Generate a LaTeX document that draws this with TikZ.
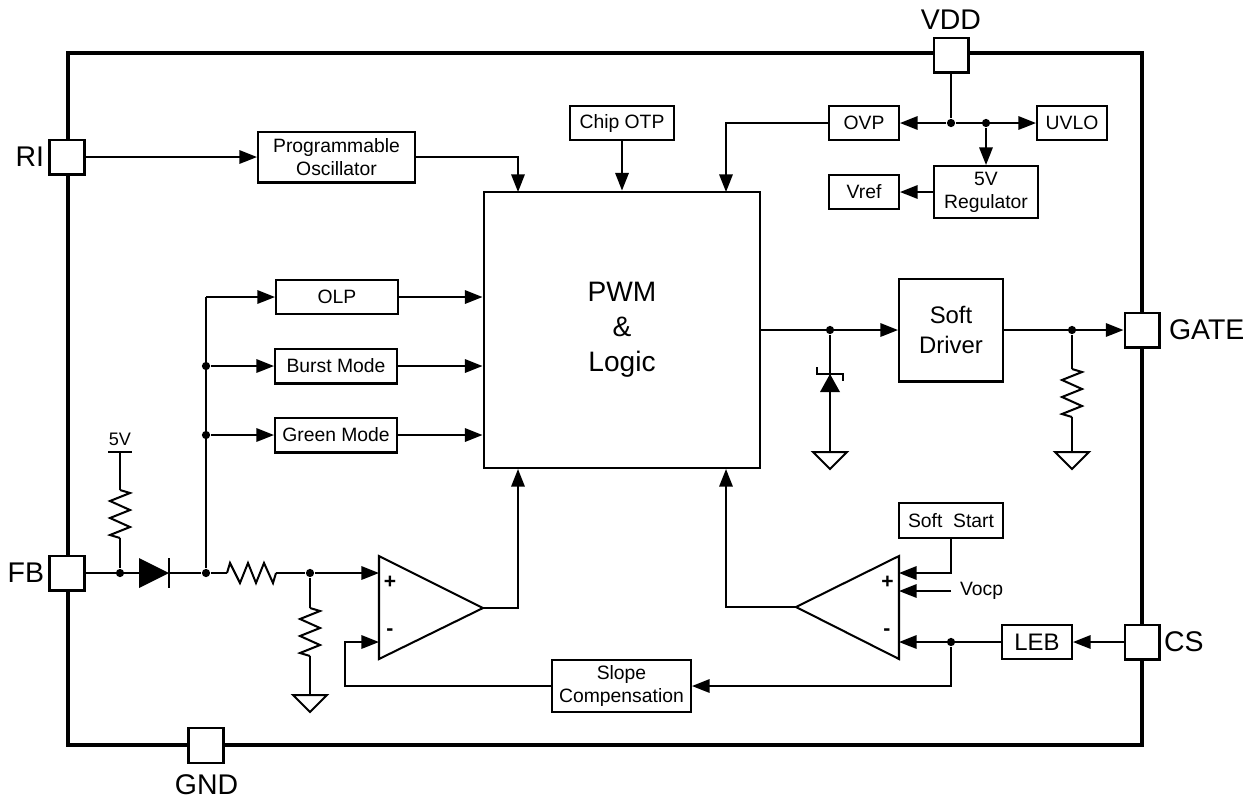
\documentclass[tikz,border=0pt]{standalone}
\usepackage{fontspec}
\setmainfont{Liberation Sans}
\usepackage{tikz}
\usetikzlibrary{arrows.meta}
\tikzstyle{blk}=[draw,fill=white,line width=1.15pt,inner sep=0,align=center,font=\fontsize{11}{13}\selectfont]
\tikzstyle{pinbox}=[blk,minimum width=0.7cm,minimum height=0.7cm]
\tikzstyle{pinname}=[inner sep=0,font=\fontsize{16.2}{19}\selectfont]
\tikzstyle{junc}=[circle,fill=black,inner sep=0,minimum size=0.165cm]
\tikzstyle{sign}=[inner sep=0,font=\bfseries\fontsize{12}{14}\selectfont]
\tikzset{
  resv/.pic={\draw (0,0) -- (10,3) -- (-10,11) -- (10,20) -- (-10,28) -- (10,37) -- (-10,45) -- (0,48);},
  resh/.pic={\draw (0,0) -- (3,-10) -- (13,10) -- (21,-10) -- (29,10) -- (37,-10) -- (46,10) -- (49,0);},
  gnd/.pic={\draw (-17,0) -- (17,0) -- (0,17) -- cycle;}
}
\begin{document}
\begin{tikzpicture}[x=0.02cm,y=-0.02cm,line width=1.15pt,>={Triangle[length=10pt,width=7.6pt]}]
\useasboundingbox (0,0) rectangle (1255,799);
\draw[line width=1.8pt] (68,53) rectangle (1142,745);
\node[pinbox] (ri) at (67,157) {};
\node[pinbox] (fb) at (67,573) {};
\node[pinbox] (gnd) at (206,745) {};
\node[pinbox] (vdd) at (951,55) {};
\node[pinbox] (gate) at (1142,330) {};
\node[pinbox] (cs) at (1142,642) {};
\node[pinname,anchor=east] (riname) at (45,157) {RI};
\node[pinname,anchor=east] (fbname) at (45,573) {FB};
\node[pinname] (gndname) at (206.5,785) {GND};
\node[pinname] (vddname) at (951,20) {VDD};
\node[pinname,anchor=west] (gatename) at (1168,330) {GATE};
\node[pinname,anchor=west] (csname) at (1163,642) {CS};
\node[blk,minimum width=3.14cm,minimum height=1.02cm] (osc) at (336.5,157) {Programmable\\Oscillator};
\node[blk,minimum width=2.08cm,minimum height=0.68cm] (otp) at (622,123) {Chip OTP};
\node[blk,minimum width=1.4cm,minimum height=0.68cm] (ovp) at (864,123) {OVP};
\node[blk,minimum width=1.4cm,minimum height=0.68cm] (uvlo) at (1072,123) {UVLO};
\node[blk,minimum width=2.08cm,minimum height=1.04cm] (reg) at (986,192) {5V\\Regulator};
\node[blk,minimum width=1.4cm,minimum height=0.68cm] (vref) at (864,192) {Vref};
\node[blk,minimum width=5.54cm,minimum height=5.54cm,font=\fontsize{16}{20}\selectfont] (pwm) at (622,330) {PWM\\\&\\Logic};
\node[blk,minimum width=2.08cm,minimum height=2.06cm,font=\fontsize{13.6}{17}\selectfont] (drv) at (951,330) {Soft\\Driver};
\node[blk,minimum width=2.44cm,minimum height=0.68cm] (olp) at (337,297) {OLP};
\node[blk,minimum width=2.44cm,minimum height=0.7cm] (burst) at (336,366) {Burst Mode};
\node[blk,minimum width=2.44cm,minimum height=0.7cm] (green) at (336,435) {Green Mode};
\node[blk,minimum width=2.08cm,minimum height=0.7cm] (soft) at (951,520.5) {Soft\ \ Start};
\node[blk,minimum width=1.4cm,minimum height=0.68cm,font=\fontsize{13.6}{16}\selectfont] (leb) at (1037,642) {LEB};
\node[blk,minimum width=2.78cm,minimum height=1.04cm] (slope) at (621.5,686) {Slope\\Compensation};
\coordinate (pwma) at (518,192);
\coordinate (pwmb) at (726,192);
\coordinate (pwmc) at (518,469);
\coordinate (pwmd) at (726,469);
\node[junc] (jvdd) at (951,123) {};
\node[junc] (jreg) at (986,123) {};
\node[junc] (jzen) at (830,330) {};
\node[junc] (jgate) at (1072,330) {};
\node[junc] (jvcc) at (120,573) {};
\node[junc] (jdio) at (206,573) {};
\node[junc] (jburst) at (206,366) {};
\node[junc] (jgreen) at (206,435) {};
\node[junc] (jlow) at (310,573) {};
\node[junc] (jleb) at (951,642) {};
\draw[->] (ri) -- (osc);
\draw[->] (osc) -| (pwma);
\draw[->] (otp) -- (otp |- pwm.north);
\draw[->] (ovp) -| (pwmb);
\draw (vdd) -- (jvdd);
\draw[->] (jvdd) -- (ovp);
\draw[->] (jvdd) -- (uvlo);
\draw[->] (jreg) -- (reg);
\draw[->] (reg) -- (vref);
\draw[->] (pwm) -- (drv);
\draw[->] (drv) -- (gate);
\draw[->] (jdio |- olp) -- (olp);
\draw (jdio) -- (jdio |- olp);
\draw[->] (jburst) -- (burst);
\draw[->] (jgreen) -- (green);
\draw[->] (olp) -- (olp -| pwm.west);
\draw[->] (burst) -- (burst -| pwm.west);
\draw[->] (green) -- (green -| pwm.west);
\coordinate (zena) at (830,374);
\coordinate (gza) at (830,452);
\draw (jzen) -- (gza);
\fill (zena) -- (840,392) -- (820,392) -- cycle;
\draw[line width=0.9pt] (817,367) -- (817,374) -- (843,374) -- (843,381);
\pic at (gza) {gnd};
\coordinate (rga) at (1072,369);
\coordinate (rgb) at (1072,417);
\coordinate (gzb) at (1072,452);
\draw (jgate) -- (rga);
\pic at (rga) {resv};
\draw (rgb) -- (gzb);
\pic at (gzb) {gnd};
\coordinate (vcc) at (120,452);
\coordinate (rva) at (120,490);
\coordinate (rvb) at (120,538);
\draw[line width=1.6pt] (108,452) -- (132,452);
\node[inner sep=0,font=\fontsize{10.3}{12}\selectfont] (vccname) at (120,439) {5V};
\draw (vcc) -- (rva);
\pic at (rva) {resv};
\draw (rvb) -- (jvcc);
\coordinate (dioa) at (139,573);
\coordinate (diok) at (169,573);
\draw (fb) -- (dioa);
\fill (139,558) -- (169,573) -- (139,588) -- cycle;
\draw (169,558) -- (169,588);
\draw (diok) -- (jdio);
\coordinate (rha) at (227,573);
\coordinate (rhb) at (276,573);
\draw (jdio) -- (rha);
\pic at (rha) {resh};
\draw (rhb) -- (jlow);
\coordinate (rla) at (310,608);
\coordinate (rlb) at (310,656);
\coordinate (gzc) at (310,695);
\draw (jlow) -- (rla);
\pic at (rla) {resv};
\draw (rlb) -- (gzc);
\pic at (gzc) {gnd};
\coordinate (cla) at (379,556);
\coordinate (clb) at (379,659);
\coordinate (clo) at (483,608);
\coordinate (clp) at (379,573);
\coordinate (clm) at (379,642);
\coordinate (clf) at (345,642);
\draw (cla) -- (clb) -- (clo) -- cycle;
\node[sign] (clplus) at (390,582) {+};
\node[sign] (clminus) at (390,632) {-};
\draw[->] (jlow) -- (clp);
\draw[->] (clo) -| (pwmc);
\draw[->] (slope) -| (clf) -- (clm);
\coordinate (cra) at (899,556);
\coordinate (crb) at (899,659);
\coordinate (cro) at (796,607);
\coordinate (crp) at (899,573);
\coordinate (crv) at (899,591);
\coordinate (crm) at (899,642);
\draw (cra) -- (crb) -- (cro) -- cycle;
\node[sign] (crplus) at (887.5,582) {+};
\node[sign] (crminus) at (887,632) {-};
\node[inner sep=0,inner xsep=0.16cm,anchor=west,font=\fontsize{11}{13}\selectfont] (vocp) at (951,591) {Vocp};
\draw[->] (cro) -| (pwmd);
\draw[->] (soft) |- (crp);
\draw[->] (vocp) -- (crv);
\draw[->] (cs) -- (leb);
\draw[->] (leb) -- (crm);
\draw[->] (jleb) |- (slope);
\end{tikzpicture}
\end{document}
